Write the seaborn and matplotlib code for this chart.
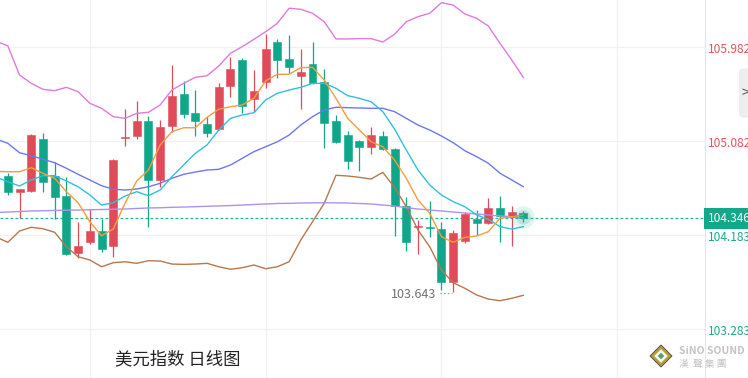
"""
美元指数 日线图 (candles + MA / BOLL lines)
"""
import matplotlib
matplotlib.use('Agg')

import numpy as np
import pandas as pd
import matplotlib.pyplot as plt
import matplotlib.transforms as mtransforms
import matplotlib.patches as mpatches
import seaborn as sns

sns.set_theme(style='white')
plt.rcParams['font.family'] = ['Noto Sans CJK SC', 'DejaVu Sans']
plt.rcParams['axes.unicode_minus'] = False

# ---- daily OHLC ----
opens = [104.753, 104.600, 104.609, 105.104, 104.753, 104.558, 104.016, 104.121, 104.223, 104.080,
         105.114, 105.136, 105.274, 104.709, 105.229, 105.535, 105.350, 105.245, 105.197, 105.614,
         105.858, 105.490, 105.653, 106.030, 105.873, 105.704, 105.822, 105.653, 105.279, 105.140,
         105.088, 105.025, 105.133, 105.008, 104.463, 104.262, 104.259, 104.242, 103.738, 104.128,
         104.335, 104.297, 104.441, 104.354, 104.400]
highs = [104.776, 104.630, 105.149, 105.162, 104.881, 104.740, 104.310, 104.431, 104.338, 104.916,
         105.391, 105.471, 105.324, 105.286, 105.813, 105.657, 105.570, 105.312, 105.637, 105.892,
         105.877, 105.762, 106.110, 106.059, 106.100, 105.963, 106.030, 105.774, 105.331, 105.184,
         105.095, 105.222, 105.181, 105.015, 104.552, 104.329, 104.511, 104.307, 104.233, 104.408,
         104.424, 104.539, 104.561, 104.466, 104.415]
lows = [104.568, 104.345, 104.594, 104.600, 104.335, 103.995, 103.968, 104.096, 104.019, 103.974,
        105.037, 105.101, 104.265, 104.647, 105.174, 105.305, 105.136, 105.126, 105.190, 105.509,
        105.356, 105.360, 105.590, 105.685, 105.733, 105.391, 105.630, 105.021, 105.070, 104.820,
        104.801, 104.961, 104.999, 104.178, 104.035, 104.000, 104.169, 103.660, 103.643, 104.111,
        104.182, 104.290, 104.121, 104.083, 104.312]
closes = [104.600, 104.625, 105.140, 104.690, 104.552, 104.000, 104.083, 104.223, 104.054, 104.903,
          105.123, 105.274, 104.715, 105.219, 105.519, 105.346, 105.274, 105.162, 105.602, 105.771,
          105.420, 105.561, 105.969, 105.861, 105.791, 105.749, 105.637, 105.260, 105.075, 104.896,
          105.030, 105.140, 105.011, 104.466, 104.115, 104.268, 104.252, 103.738, 104.201, 104.386,
          104.303, 104.441, 104.367, 104.408, 104.346]

# ---- indicator lines (one value per bar, first one is the bar left of the view) ----
line_idx = list(range(-1, 45))
ma5 = [104.795, 104.791, 104.791, 104.829, 104.776, 104.728, 104.600, 104.494, 104.312, 104.178,
       104.242, 104.489, 104.702, 104.807, 105.047, 105.174, 105.212, 105.212, 105.312, 105.389,
       105.413, 105.430, 105.494, 105.660, 105.724, 105.724, 105.787, 105.791, 105.669, 105.494,
       105.302, 105.190, 105.078, 105.030, 104.903, 104.728, 104.520, 104.393, 104.169, 104.115,
       104.163, 104.175, 104.217, 104.345, 104.360, 104.377]
ma10 = [104.740, 104.695, 104.654, 104.712, 104.753, 104.753, 104.702, 104.647, 104.568, 104.472,
        104.494, 104.558, 104.600, 104.561, 104.616, 104.743, 104.855, 104.967, 105.047, 105.190,
        105.302, 105.334, 105.356, 105.478, 105.542, 105.573, 105.599, 105.637, 105.637, 105.590,
        105.519, 105.494, 105.461, 105.366, 105.200, 104.999, 104.807, 104.664, 104.568, 104.504,
        104.456, 104.377, 104.335, 104.265, 104.242, 104.265]
ma20 = [105.104, 105.063, 104.973, 104.944, 104.910, 104.877, 104.824, 104.766, 104.712, 104.657,
        104.623, 104.616, 104.625, 104.647, 104.680, 104.728, 104.766, 104.788, 104.807, 104.814,
        104.855, 104.919, 104.983, 105.030, 105.078, 105.142, 105.238, 105.318, 105.382, 105.408,
        105.404, 105.401, 105.398, 105.398, 105.366, 105.302, 105.238, 105.190, 105.133, 105.069,
        104.992, 104.935, 104.872, 104.776, 104.712, 104.647]
ma_long = [104.400, 104.405, 104.410, 104.415, 104.417, 104.420, 104.423, 104.424, 104.427, 104.429,
           104.432, 104.434, 104.439, 104.444, 104.446, 104.450, 104.453, 104.456, 104.460, 104.463,
           104.467, 104.472, 104.477, 104.482, 104.487, 104.488, 104.491, 104.493, 104.494, 104.493,
           104.491, 104.487, 104.482, 104.472, 104.463, 104.446, 104.434, 104.424, 104.415, 104.405,
           104.396, 104.386, 104.377, 104.368, 104.360, 104.350]
boll_up = [106.038, 105.997, 105.717, 105.637, 105.580, 105.567, 105.599, 105.557, 105.446, 105.398,
           105.318, 105.302, 105.350, 105.360, 105.430, 105.573, 105.637, 105.695, 105.710, 105.803,
           105.925, 105.988, 106.059, 106.131, 106.212, 106.356, 106.346, 106.308, 106.227, 106.062,
           106.062, 106.065, 106.065, 106.033, 106.107, 106.227, 106.275, 106.308, 106.409, 106.387,
           106.301, 106.260, 106.186, 106.020, 105.861, 105.691]
boll_dn = [104.166, 104.115, 104.223, 104.259, 104.245, 104.211, 104.073, 103.977, 103.946, 103.881,
           103.920, 103.929, 103.914, 103.939, 103.936, 103.907, 103.904, 103.907, 103.914, 103.881,
           103.857, 103.872, 103.898, 103.862, 103.881, 103.929, 104.137, 104.312, 104.489, 104.757,
           104.750, 104.737, 104.721, 104.785, 104.640, 104.456, 104.233, 104.073, 103.850, 103.728,
           103.675, 103.611, 103.572, 103.556, 103.579, 103.608]

price_levels = [105.982, 105.082, 104.183, 103.283]
last_price = 104.346
low_mark = 103.643

RED = '#df4b58'
GREEN = '#0fa68a'

df = pd.DataFrame({'open': opens, 'high': highs, 'low': lows, 'close': closes})
df['i'] = np.arange(len(df))
df['up'] = df['close'] >= df['open']

fig = plt.figure(figsize=(7.48, 3.78), dpi=100)
ax = fig.add_axes([0, 0, 705 / 748, 1])

# candles
for _, r in df.iterrows():
    c = RED if r['up'] else GREEN
    ax.vlines(r['i'], r['low'], r['high'], color=c, lw=0.9, zorder=2)
    lo = min(r['open'], r['close'])
    h = max(abs(r['close'] - r['open']), 0.012)
    ax.bar(r['i'], h, bottom=lo, width=0.68, color=c, edgecolor=c, lw=0.4, zorder=2)

# indicator lines
lines = [(boll_up, '#df7bd8'), (boll_dn, '#b67850'), (ma_long, '#ad92ea'),
         (ma20, '#6f76f0'), (ma10, '#2fc0de'), (ma5, '#f89c3e')]
for vals, col in lines:
    sns.lineplot(x=line_idx, y=vals, color=col, lw=1.0, ax=ax, estimator=None, zorder=3)

# current price line + glow on last bar
ax.axhline(last_price, color='#22b39a', lw=0.9, ls=(0, (2.2, 1.8)), zorder=1)
ax.scatter([44], [104.36], s=260, color=GREEN, alpha=0.12, lw=0, zorder=4)
ax.scatter([44], [104.36], s=110, color=GREEN, alpha=0.18, lw=0, zorder=4)

# lowest low marker
ax.text(36.6, 103.612, f'{low_mark:.3f}', ha='right', va='center', fontsize=9, color='#707070')
ax.plot([36.85, 37.9], [103.632, 103.632], ls=':', color='#9a9a9a', lw=1.0)

ax.set_xlim(-0.666, 59.49)
ax.set_ylim(102.816, 106.435)
ax.set_xticks([7, 22, 37, 52])
ax.set_yticks(price_levels)
ax.set_xticklabels([])
ax.set_yticklabels([])
ax.tick_params(length=0)
ax.grid(True, color='#f1f1f3', lw=0.9)
ax.set_xlabel('')
ax.set_ylabel('')
for s in ['top', 'left', 'bottom']:
    ax.spines[s].set_visible(False)
ax.spines['right'].set_color('#e6e6ea')
ax.spines['right'].set_linewidth(0.8)

# right-hand price labels
trans = mtransforms.blended_transform_factory(ax.transAxes, ax.transData)
for lv in price_levels:
    col = '#e5535f' if lv > last_price else '#19a98d'
    yy = lv - 0.025 if lv > last_price else lv - 0.02
    ax.text(1.004, yy, f'{lv:.3f}', transform=trans, ha='left', va='center',
            fontsize=8.6, color=col, clip_on=False)
ax.text(1.004, last_price, f'{last_price:.3f}', transform=trans, ha='left', va='center',
        fontsize=8.6, color='white', clip_on=False,
        bbox=dict(boxstyle='square,pad=0.32', fc='#14a88b', ec='none'))

# side tab
fig.patches.append(mpatches.FancyBboxPatch((739 / 748, 1 - 118 / 378), 12 / 748, 50 / 378,
                                           boxstyle='round,pad=0,rounding_size=0.01',
                                           transform=fig.transFigure, fc='#eeeef1', ec='none'))
fig.text(741 / 748, 1 - 93 / 378, '>', fontsize=10, color='#555555', va='center')

# title
fig.text(115 / 748, 1 - 359 / 378, '美元指数 日线图', fontsize=12.5, color='#222222', va='center')

# watermark logo (diamond drawn as patches)
cx, cy, rr = 661 / 748, 1 - 356 / 378, 11
for scale, fc, ec in [(1.0, '#b59d3a', '#444444'), (0.62, '#f4f4f4', 'none'), (0.3, '#5aa35a', 'none')]:
    dx, dy = rr * scale / 748, rr * scale / 378
    fig.patches.append(mpatches.Polygon([(cx, cy + dy), (cx + dx, cy), (cx, cy - dy), (cx - dx, cy)],
                                        closed=True, transform=fig.transFigure,
                                        fc=fc, ec=ec, lw=0.6))
fig.text(679 / 748, 1 - 351 / 378, 'SiNO SOUND', fontsize=7.5, color='#c4c4c4',
         fontweight='bold', va='center')
fig.text(679 / 748, 1 - 364 / 378, '漢  聲 集 團', fontsize=7, color='#c4c4c4', va='center')

fig.savefig('out.png', dpi=100)
plt.close(fig)
print('[OK] out.png')
